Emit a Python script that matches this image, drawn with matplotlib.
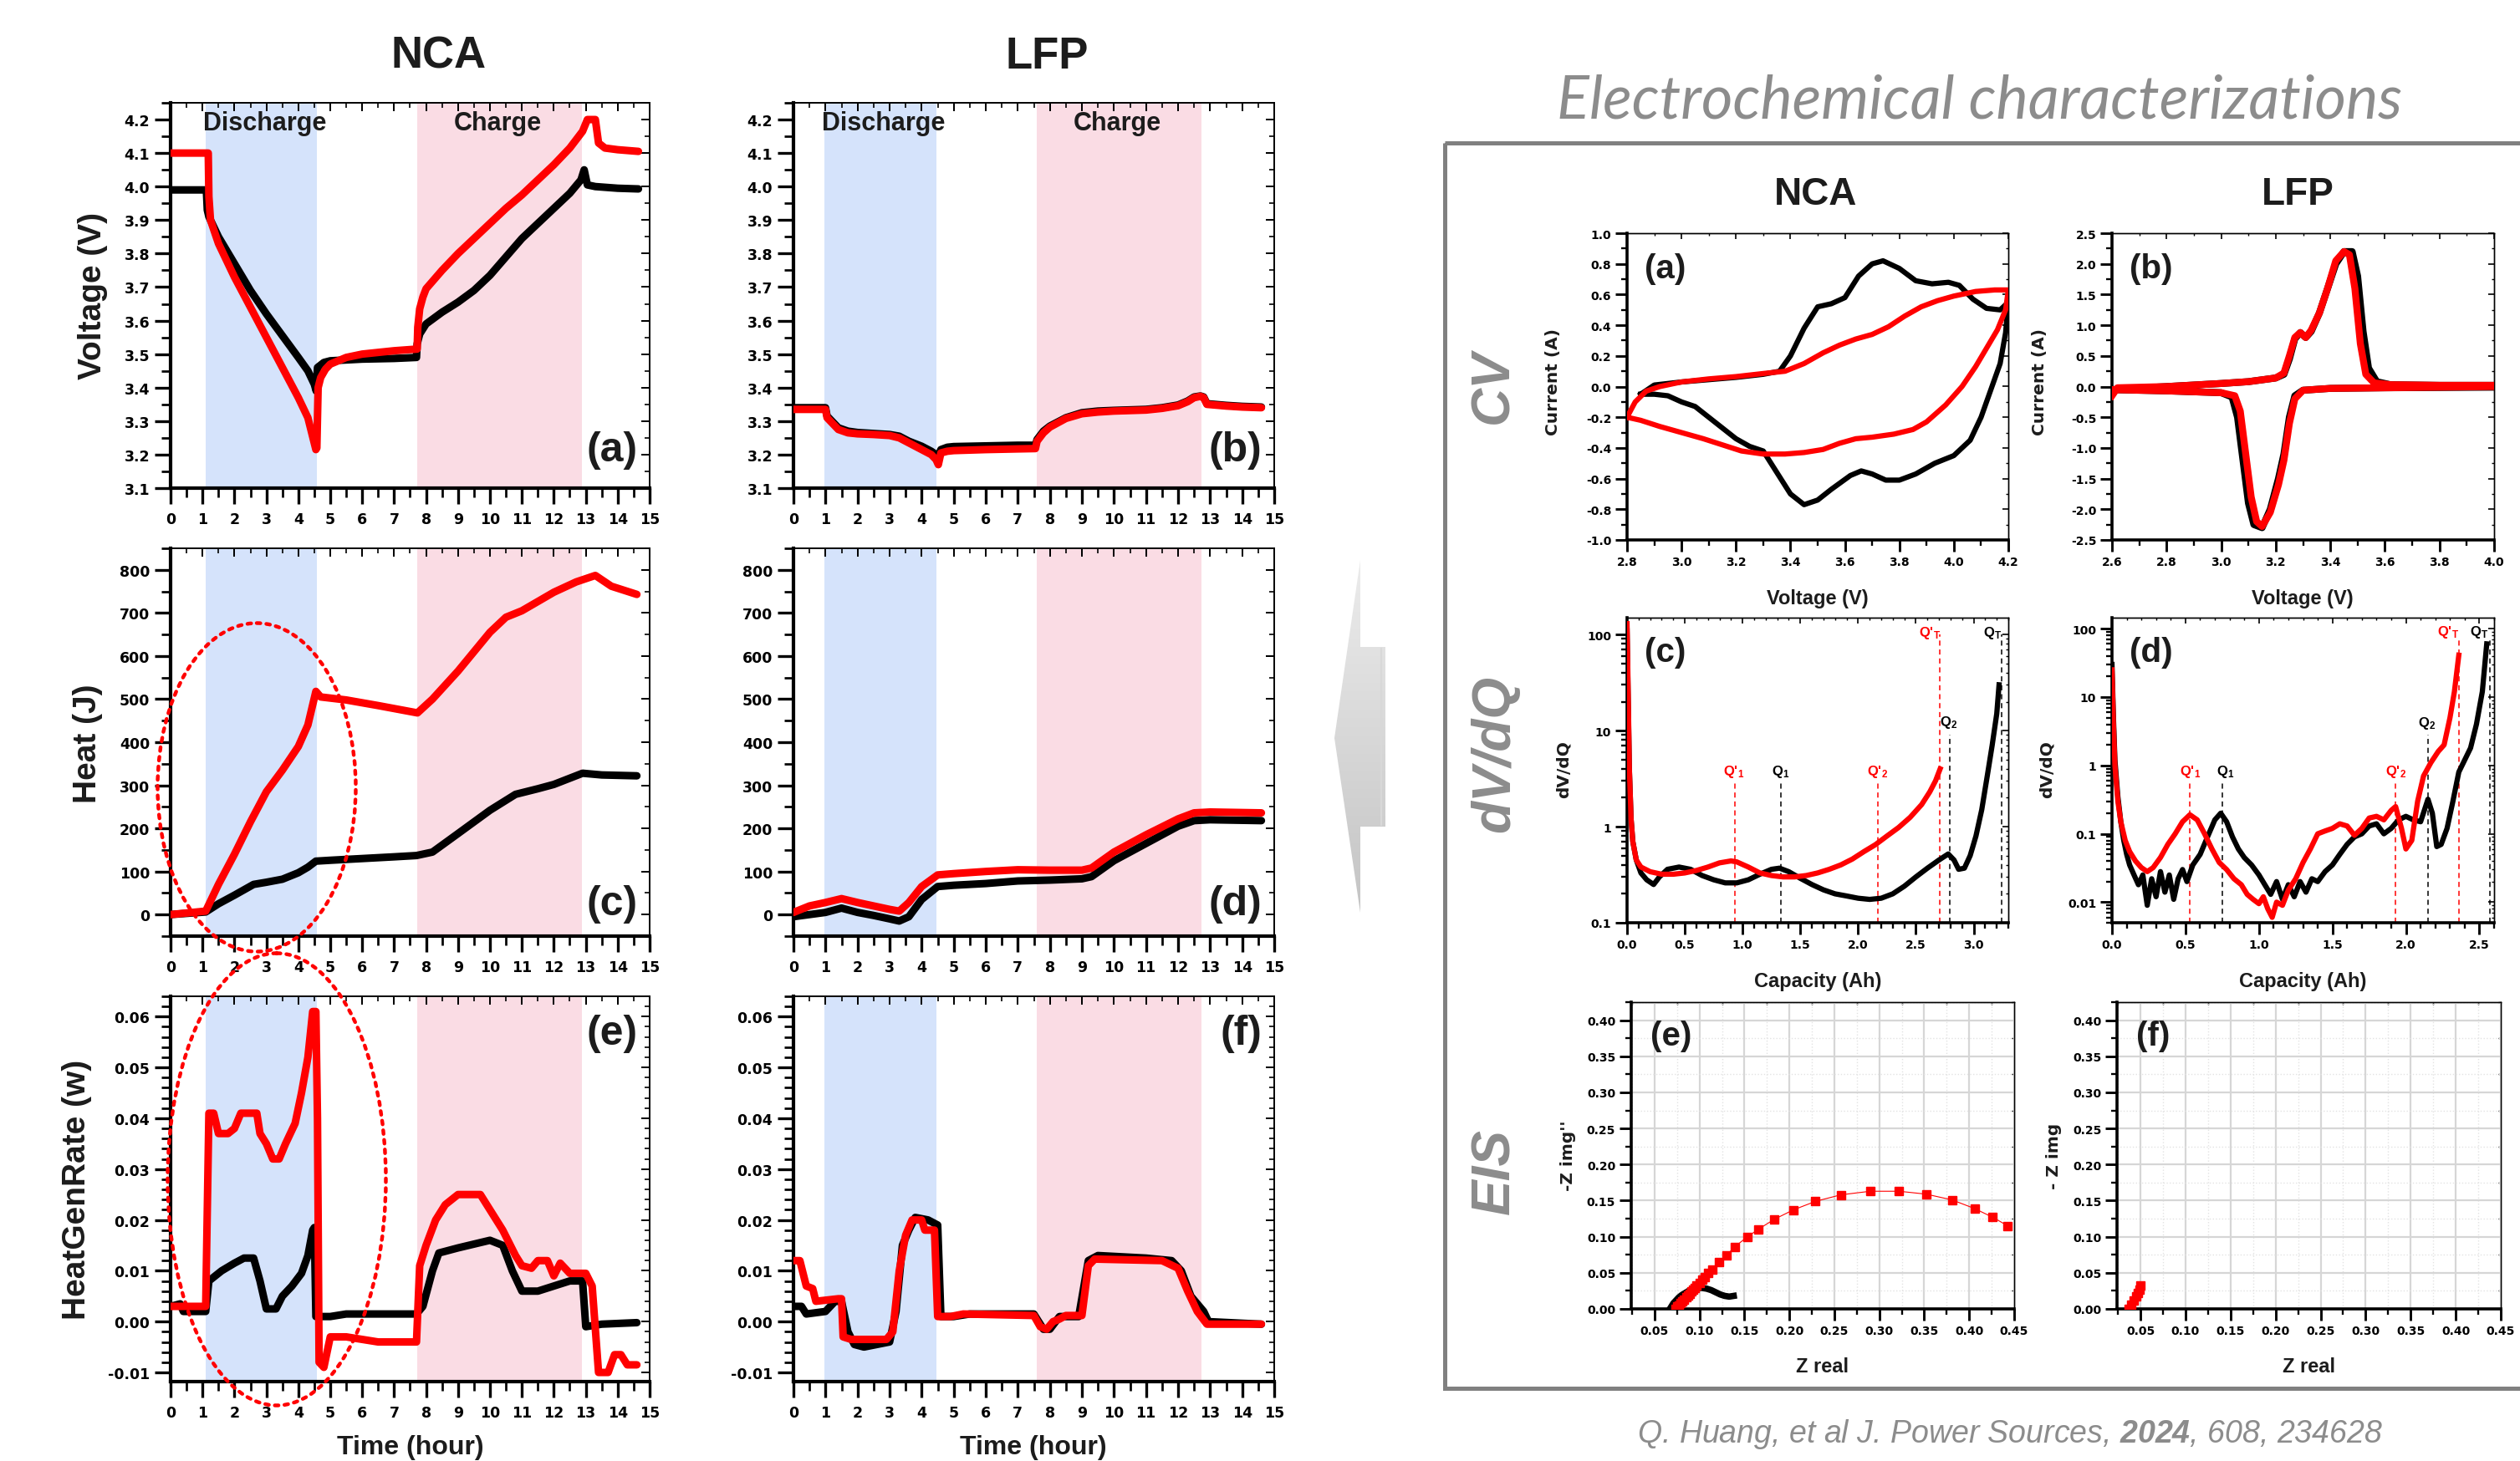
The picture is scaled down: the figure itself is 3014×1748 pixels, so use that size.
import matplotlib
matplotlib.use("Agg")
import numpy as np
import matplotlib.pyplot as plt
from matplotlib import font_manager as fm
from matplotlib.patches import Ellipse, Rectangle, Polygon
from matplotlib.colors import LinearSegmentedColormap
from matplotlib.ticker import (MultipleLocator, FixedLocator, FuncFormatter,
                               LogLocator, NullFormatter)

_names = {f.name for f in fm.fontManager.ttflist}
NARROW = 'Liberation Sans Narrow' if 'Liberation Sans Narrow' in _names else 'Liberation Sans'

plt.rcParams['font.family'] = ['Liberation Sans', 'DejaVu Sans']
plt.rcParams['font.weight'] = 'bold'
plt.rcParams['mathtext.fontset'] = 'custom'
plt.rcParams['mathtext.rm'] = 'Liberation Sans:bold'
plt.rcParams['mathtext.it'] = 'Liberation Sans:italic:bold'
plt.rcParams['mathtext.bf'] = NARROW + ':italic:bold'

# %% data -------------------------------------------------------------
# shaded step windows (hours)
nca_dis = (1.11, 4.57)
nca_chg = (7.71, 12.88)
lfp_dis = (0.97, 4.45)
lfp_chg = (7.58, 12.74)

# (a) NCA voltage
nca_v_t_k = [0, 1.12, 1.15, 1.2, 1.5, 2.0, 2.5, 3.0, 3.5, 4.0, 4.3, 4.5, 4.56, 4.6, 4.8, 5.0, 6.0, 7.0,
             7.7, 7.72, 7.8, 8.0, 8.5, 9.0, 9.5, 10.0, 10.5, 11.0, 11.5, 12.0, 12.5, 12.85, 12.95,
             13.05, 13.3, 14.0, 14.65]
nca_v_k = [3.99, 3.99, 3.93, 3.91, 3.85, 3.77, 3.69, 3.62, 3.555, 3.49, 3.45, 3.41, 3.39, 3.46, 3.475,
           3.48, 3.485, 3.487, 3.49, 3.53, 3.56, 3.59, 3.625, 3.655, 3.69, 3.735, 3.79, 3.845, 3.89,
           3.935, 3.98, 4.02, 4.05, 4.005, 4.0, 3.995, 3.993]
nca_v_t_r = [0, 1.18, 1.2, 1.25, 1.5, 2.0, 2.5, 3.0, 3.5, 4.0, 4.3, 4.55, 4.58, 4.62, 4.7, 4.85, 5.0,
             5.5, 6.0, 7.0, 7.72, 7.74, 7.8, 7.9, 8.0, 8.5, 9.0, 9.5, 10.0, 10.5, 11.0, 11.5, 12.0,
             12.5, 12.9, 13.05, 13.3, 13.4, 13.6, 14.0, 14.65]
nca_v_r = [4.1, 4.1, 3.97, 3.9, 3.83, 3.73, 3.64, 3.55, 3.46, 3.37, 3.31, 3.215, 3.22, 3.40, 3.43,
           3.455, 3.47, 3.49, 3.50, 3.51, 3.515, 3.58, 3.635, 3.67, 3.695, 3.75, 3.80, 3.845, 3.89,
           3.935, 3.975, 4.02, 4.065, 4.115, 4.165, 4.20, 4.20, 4.13, 4.115, 4.11, 4.105]

# (b) LFP voltage
lfp_v_t = [0, 1.0, 1.05, 1.2, 1.4, 1.7, 2.0, 2.5, 3.0, 3.3, 3.6, 4.0, 4.3, 4.45, 4.52, 4.6, 4.8, 5.0,
           6.0, 7.0, 7.55, 7.6, 7.8, 8.0, 8.5, 9.0, 9.5, 10.0, 11.0, 11.5, 12.0, 12.3, 12.5, 12.7,
           12.8, 12.9, 13.5, 14.0, 14.6]
lfp_v_k = [3.34, 3.34, 3.315, 3.30, 3.28, 3.27, 3.266, 3.263, 3.26, 3.255, 3.24, 3.225, 3.21, 3.20,
           3.195, 3.215, 3.222, 3.224, 3.226, 3.228, 3.228, 3.245, 3.27, 3.285, 3.31, 3.325, 3.33,
           3.332, 3.335, 3.34, 3.348, 3.36, 3.372, 3.375, 3.372, 3.352, 3.347, 3.344, 3.342]
lfp_v_r = [3.335, 3.335, 3.31, 3.295, 3.275, 3.265, 3.262, 3.26, 3.257, 3.25, 3.235, 3.215, 3.20,
           3.185, 3.17, 3.205, 3.21, 3.212, 3.215, 3.217, 3.218, 3.24, 3.265, 3.282, 3.308, 3.322,
           3.327, 3.33, 3.333, 3.338, 3.346, 3.358, 3.37, 3.374, 3.37, 3.35, 3.345, 3.342, 3.34]

# (c) NCA heat
nca_q_t_k = [0, 1.1, 1.5, 2.0, 2.6, 3.0, 3.5, 4.0, 4.3, 4.55, 5.0, 6.0, 7.0, 7.7, 8.2, 9.0, 10.0, 10.8,
             11.5, 12.0, 12.9, 13.5, 14.6]
nca_q_k = [0, 6, 25, 45, 70, 75, 82, 97, 110, 124, 126, 130, 134, 137, 145, 188, 242, 279, 292, 302,
           328, 324, 322]
nca_q_t_r = [0, 1.1, 1.5, 2.0, 2.5, 3.0, 3.5, 4.0, 4.3, 4.55, 4.7, 5.5, 6.5, 7.73, 8.2, 9.0, 10.0,
             10.5, 11.0, 12.0, 12.7, 13.3, 13.8, 14.6]
nca_q_r = [0, 8, 70, 140, 215, 285, 335, 390, 440, 518, 505, 498, 485, 468, 500, 565, 655, 690, 705,
           748, 772, 787, 762, 743]

# (d) LFP heat
lfp_q_t = [0, 0.5, 1.0, 1.5, 2.0, 2.5, 3.0, 3.3, 3.6, 4.0, 4.5, 5.0, 6.0, 7.0, 8.0, 9.0, 9.3, 10.0,
           11.0, 12.0, 12.5, 13.0, 14.6]
lfp_q_k = [-5, 0, 5, 15, 5, -2, -10, -15, -5, 35, 65, 68, 72, 78, 80, 83, 88, 125, 165, 205, 218,
           220, 218]
lfp_q_r = [5, 20, 28, 37, 28, 20, 12, 8, 28, 65, 92, 95, 100, 104, 103, 103, 108, 145, 185, 222,
           236, 238, 236]

# (e) NCA heat generation rate
nca_h_t_k = [0, 0.3, 0.4, 1.1, 1.2, 1.4, 1.6, 2.0, 2.3, 2.6, 2.8, 3.0, 3.3, 3.5, 3.8, 4.1, 4.3, 4.45,
             4.5, 4.55, 5.0, 5.5, 7.7, 7.9, 8.2, 8.4, 9.0, 10.0, 10.4, 10.7, 11.0, 11.5, 12.0, 12.5,
             12.9, 13.0, 13.5, 14.6]
nca_h_k = [0.003, 0.0035, 0.002, 0.002, 0.008, 0.009, 0.010, 0.0115, 0.0125, 0.0125, 0.008, 0.0025,
           0.0025, 0.005, 0.007, 0.0095, 0.013, 0.018, 0.0185, 0.001, 0.001, 0.0015, 0.0015, 0.003,
           0.010, 0.0135, 0.0145, 0.016, 0.015, 0.010, 0.006, 0.006, 0.007, 0.008, 0.008, -0.001,
           -0.0005, -0.0002]
nca_h_t_r = [0, 1.1, 1.2, 1.35, 1.5, 1.8, 2.0, 2.2, 2.7, 2.8, 3.0, 3.2, 3.4, 3.6, 3.9, 4.1, 4.3, 4.45,
             4.55, 4.6, 4.65, 4.8, 5.0, 5.5, 6.0, 6.5, 7.7, 7.8, 8.0, 8.3, 8.6, 9.0, 9.7, 10.0, 10.4,
             10.8, 11.0, 11.3, 11.5, 11.8, 12.0, 12.2, 12.5, 13.0, 13.2, 13.4, 13.7, 13.9, 14.1,
             14.3, 14.6]
nca_h_r = [0.003, 0.003, 0.041, 0.041, 0.037, 0.037, 0.038, 0.041, 0.041, 0.037, 0.035, 0.032,
           0.032, 0.035, 0.039, 0.045, 0.052, 0.061, 0.061, 0.040, -0.008, -0.009, -0.003, -0.003,
           -0.0035, -0.004, -0.004, 0.011, 0.015, 0.020, 0.023, 0.025, 0.025, 0.022, 0.018, 0.013,
           0.011, 0.0105, 0.012, 0.012, 0.009, 0.0115, 0.0095, 0.0095, 0.007, -0.010, -0.010,
           -0.0065, -0.0065, -0.0085, -0.0085]

# (f) LFP heat generation rate
lfp_h_t_k = [0, 0.25, 0.4, 1.0, 1.3, 1.5, 1.7, 1.9, 2.2, 3.0, 3.2, 3.4, 3.6, 3.8, 4.2, 4.5, 4.6, 5.0,
             5.5, 7.5, 7.8, 8.0, 8.3, 8.9, 9.2, 9.5, 11.0, 11.8, 12.1, 12.4, 12.8, 12.95, 14.6]
lfp_h_k = [0.003, 0.003, 0.0015, 0.002, 0.004, 0.004, -0.002, -0.0045, -0.005, -0.004, 0.002, 0.015,
           0.018, 0.0205, 0.020, 0.019, 0.001, 0.001, 0.0015, 0.0015, -0.0015, -0.0015, 0.001, 0.001,
           0.012, 0.013, 0.0125, 0.012, 0.010, 0.005, 0.002, 0.0, -0.0005]
lfp_h_t_r = [0, 0.2, 0.4, 0.6, 0.7, 1.4, 1.5, 1.55, 1.8, 2.9, 3.1, 3.3, 3.5, 3.7, 4.0, 4.1, 4.4, 4.5,
             4.9, 5.3, 7.5, 7.7, 7.9, 8.1, 8.3, 8.5, 9.0, 9.2, 9.4, 11.5, 12.0, 12.3, 12.6, 12.9, 14.6]
lfp_h_r = [0.012, 0.012, 0.007, 0.0065, 0.004, 0.0045, 0.0045, -0.003, -0.0035, -0.0035, -0.002,
           0.010, 0.017, 0.020, 0.020, 0.018, 0.018, 0.001, 0.001, 0.0015, 0.0012, -0.001, -0.0015,
           0.0, 0.0005, 0.0012, 0.0012, 0.011, 0.0123, 0.012, 0.0105, 0.006, 0.002, -0.0005, -0.0005]

# CV (a) NCA, (b) LFP
cv_nca_v_k = [2.85, 2.9, 3.0, 3.1, 3.2, 3.3, 3.36, 3.4, 3.45, 3.5, 3.55, 3.6, 3.65, 3.7, 3.74, 3.8,
              3.86, 3.92, 3.98, 4.02, 4.07, 4.12, 4.17, 4.2, 4.19, 4.17, 4.13, 4.1, 4.06, 4.0, 3.93,
              3.86, 3.8, 3.75, 3.7, 3.66, 3.62, 3.55, 3.5, 3.45, 3.4, 3.35, 3.3, 3.25, 3.2, 3.15,
              3.1, 3.05, 3.0, 2.95, 2.9, 2.85]
cv_nca_i_k = [-0.05, 0.01, 0.03, 0.045, 0.06, 0.08, 0.1, 0.2, 0.38, 0.52, 0.54, 0.58, 0.72, 0.8,
              0.82, 0.77, 0.69, 0.67, 0.68, 0.66, 0.57, 0.51, 0.5, 0.55, 0.35, 0.15, -0.05, -0.2,
              -0.35, -0.45, -0.5, -0.57, -0.61, -0.61, -0.57, -0.55, -0.58, -0.67, -0.74, -0.77,
              -0.7, -0.56, -0.42, -0.39, -0.34, -0.27, -0.2, -0.13, -0.1, -0.06, -0.05, -0.05]
cv_nca_v_r = [2.8, 2.83, 2.87, 2.92, 3.0, 3.1, 3.2, 3.3, 3.38, 3.45, 3.52, 3.58, 3.64, 3.7, 3.76,
              3.82, 3.88, 3.94, 4.0, 4.08, 4.15, 4.2, 4.19, 4.16, 4.13, 4.08, 4.03, 3.97, 3.9, 3.85,
              3.78, 3.7, 3.64, 3.58, 3.52, 3.45, 3.38, 3.3, 3.22, 3.15, 3.08, 3.0, 2.92, 2.85, 2.8]
cv_nca_i_r = [-0.2, -0.1, -0.03, 0.0, 0.03, 0.05, 0.065, 0.085, 0.1, 0.15, 0.22, 0.27, 0.31, 0.34,
              0.39, 0.46, 0.52, 0.56, 0.59, 0.62, 0.63, 0.63, 0.5, 0.37, 0.28, 0.13, 0.0, -0.12,
              -0.23, -0.28, -0.31, -0.33, -0.34, -0.37, -0.41, -0.43, -0.44, -0.44, -0.42, -0.38,
              -0.34, -0.3, -0.26, -0.22, -0.2]
cv_lfp_v_k = [2.6, 2.8, 3.0, 3.1, 3.2, 3.23, 3.25, 3.27, 3.29, 3.31, 3.33, 3.36, 3.39, 3.42, 3.45,
              3.48, 3.5, 3.52, 3.54, 3.57, 3.62, 3.8, 4.0, 4.0, 3.6, 3.4, 3.3, 3.27, 3.25, 3.23,
              3.21, 3.18, 3.15, 3.12, 3.1, 3.08, 3.06, 3.04, 3.0, 2.8, 2.6]
cv_lfp_i_k = [-0.05, 0.0, 0.05, 0.08, 0.14, 0.2, 0.45, 0.78, 0.88, 0.8, 0.9, 1.2, 1.6, 2.0, 2.2,
              2.2, 1.8, 0.9, 0.3, 0.08, 0.03, 0.02, 0.02, -0.01, -0.02, -0.03, -0.06, -0.15, -0.5,
              -1.1, -1.5, -2.0, -2.3, -2.25, -1.9, -1.2, -0.5, -0.17, -0.1, -0.07, -0.05]
cv_lfp_v_r = [2.6, 2.62, 2.8, 3.0, 3.1, 3.2, 3.23, 3.25, 3.27, 3.29, 3.31, 3.33, 3.36, 3.39, 3.42,
              3.45, 3.47, 3.49, 3.51, 3.53, 3.56, 3.62, 3.8, 4.0, 4.0, 3.6, 3.4, 3.3, 3.27, 3.25,
              3.23, 3.21, 3.18, 3.15, 3.13, 3.11, 3.09, 3.07, 3.05, 3.0, 2.8, 2.6]
cv_lfp_i_r = [-0.15, -0.02, 0.0, 0.05, 0.08, 0.14, 0.22, 0.5, 0.8, 0.88, 0.8, 0.92, 1.2, 1.6, 2.05,
              2.2, 2.15, 1.6, 0.7, 0.2, 0.06, 0.03, 0.02, 0.02, 0.0, -0.02, -0.03, -0.06, -0.2,
              -0.6, -1.2, -1.6, -2.05, -2.28, -2.2, -1.8, -1.1, -0.4, -0.15, -0.1, -0.07, -0.05]

# dV/dQ (c) NCA, (d) LFP
dq_nca_c_k = [0.0, 0.01, 0.02, 0.035, 0.05, 0.08, 0.12, 0.17, 0.23, 0.28, 0.35, 0.45, 0.55, 0.65,
              0.75, 0.85, 0.95, 1.05, 1.15, 1.25, 1.32, 1.4, 1.5, 1.6, 1.7, 1.8, 1.9, 2.0, 2.1, 2.2,
              2.3, 2.4, 2.5, 2.6, 2.7, 2.78, 2.83, 2.87, 2.92, 2.97, 3.02, 3.07, 3.12, 3.16, 3.2, 3.22]
dq_nca_k = [110, 20, 4, 1.2, 0.7, 0.45, 0.33, 0.28, 0.25, 0.3, 0.36, 0.38, 0.36, 0.31, 0.28, 0.26,
            0.26, 0.28, 0.32, 0.36, 0.37, 0.34, 0.29, 0.25, 0.22, 0.2, 0.19, 0.18, 0.175, 0.18, 0.2,
            0.24, 0.3, 0.37, 0.45, 0.52, 0.45, 0.36, 0.37, 0.5, 0.8, 1.5, 3.5, 7, 15, 30]
dq_nca_c_r = [0.0, 0.01, 0.02, 0.035, 0.05, 0.08, 0.12, 0.2, 0.3, 0.4, 0.5, 0.6, 0.7, 0.8, 0.9,
              0.95, 1.05, 1.15, 1.25, 1.35, 1.45, 1.55, 1.65, 1.75, 1.85, 1.95, 2.05, 2.15, 2.25,
              2.35, 2.45, 2.55, 2.62, 2.67, 2.71]
dq_nca_r = [130, 25, 4, 1.2, 0.7, 0.45, 0.38, 0.34, 0.32, 0.32, 0.33, 0.35, 0.38, 0.42, 0.44, 0.43,
            0.38, 0.33, 0.31, 0.3, 0.3, 0.31, 0.33, 0.36, 0.4, 0.46, 0.55, 0.65, 0.8, 0.98, 1.25,
            1.7, 2.3, 3.0, 4.0]
dq_lfp_c_k = [0.0, 0.01, 0.02, 0.04, 0.06, 0.08, 0.1, 0.12, 0.15, 0.18, 0.21, 0.24, 0.27, 0.3, 0.33,
              0.36, 0.39, 0.42, 0.45, 0.48, 0.51, 0.55, 0.6, 0.65, 0.7, 0.74, 0.78, 0.82, 0.86, 0.9,
              0.95, 1.0, 1.04, 1.08, 1.12, 1.16, 1.2, 1.24, 1.28, 1.32, 1.36, 1.4, 1.45, 1.5, 1.55,
              1.6, 1.65, 1.7, 1.75, 1.8, 1.85, 1.9, 1.95, 2.0, 2.05, 2.1, 2.15, 2.18, 2.21, 2.24,
              2.28, 2.32, 2.36, 2.4, 2.44, 2.48, 2.52, 2.55]
dq_lfp_k = [30, 5, 1.2, 0.35, 0.15, 0.08, 0.05, 0.035, 0.025, 0.018, 0.025, 0.009, 0.022, 0.012,
            0.028, 0.014, 0.025, 0.011, 0.022, 0.03, 0.02, 0.035, 0.05, 0.09, 0.16, 0.2, 0.15, 0.09,
            0.06, 0.045, 0.035, 0.025, 0.018, 0.013, 0.02, 0.011, 0.018, 0.012, 0.02, 0.014, 0.022,
            0.02, 0.028, 0.035, 0.05, 0.07, 0.09, 0.1, 0.13, 0.14, 0.1, 0.12, 0.16, 0.18, 0.16,
            0.15, 0.32, 0.2, 0.065, 0.07, 0.12, 0.3, 0.8, 1.2, 1.8, 4.0, 12, 60]
dq_lfp_c_r = [0.0, 0.01, 0.02, 0.04, 0.06, 0.09, 0.12, 0.16, 0.2, 0.24, 0.28, 0.33, 0.38, 0.43,
              0.48, 0.53, 0.58, 0.63, 0.68, 0.73, 0.78, 0.83, 0.88, 0.92, 0.96, 1.0, 1.03, 1.06,
              1.09, 1.12, 1.16, 1.2, 1.25, 1.3, 1.35, 1.4, 1.45, 1.5, 1.55, 1.6, 1.65, 1.7, 1.75,
              1.8, 1.85, 1.9, 1.93, 1.97, 2.0, 2.04, 2.08, 2.12, 2.17, 2.22, 2.26, 2.3, 2.33, 2.36]
dq_lfp_r = [25, 4, 1.0, 0.3, 0.15, 0.08, 0.055, 0.04, 0.032, 0.028, 0.032, 0.045, 0.07, 0.1, 0.15,
            0.19, 0.16, 0.1, 0.06, 0.038, 0.03, 0.022, 0.018, 0.013, 0.011, 0.0095, 0.012, 0.008,
            0.006, 0.01, 0.009, 0.015, 0.022, 0.038, 0.06, 0.1, 0.11, 0.12, 0.14, 0.13, 0.095,
            0.12, 0.17, 0.18, 0.16, 0.22, 0.25, 0.12, 0.06, 0.08, 0.3, 0.7, 1.1, 1.6, 2.0, 5, 12, 41]

# peak markers on the dV/dQ panels
nca_mk_x = [0.93, 1.33, 2.17, 2.71, 2.79, 3.24]
nca_mk_top = [3.0, 3.0, 3.0, 100, 9, 100]
nca_mk_lx = [0.92, 1.33, 2.17, 2.62, 2.78, 3.16]
nca_mk_ly = [3.8, 3.8, 3.8, 105, 12.5, 105]
lfp_mk_x = [0.53, 0.75, 1.93, 2.15, 2.36, 2.57]
lfp_mk_top = [0.55, 0.55, 0.55, 2.8, 70, 70]
lfp_mk_lx = [0.53, 0.77, 1.93, 2.14, 2.29, 2.5]
lfp_mk_ly = [0.82, 0.82, 0.82, 4.2, 92, 92]
mk_labels = ["Q'$_1$", "Q$_1$", "Q'$_2$", "Q'$_\\mathrm{T}$", "Q$_2$", "Q$_\\mathrm{T}$"]
nca_mk_col = ['red', 'black', 'red', 'red', 'black', 'black']
lfp_mk_col = ['red', 'black', 'red', 'black', 'red', 'black']
lfp_mk_labels = ["Q'$_1$", "Q$_1$", "Q'$_2$", "Q$_2$", "Q'$_\\mathrm{T}$", "Q$_\\mathrm{T}$"]

# EIS (e) NCA, (f) LFP
eis_nca_zr_r = [0.073, 0.075, 0.077, 0.079, 0.081, 0.083, 0.085, 0.087, 0.089, 0.091, 0.093, 0.095,
                0.097, 0.100, 0.103, 0.106, 0.110, 0.114, 0.122, 0.130, 0.139, 0.153, 0.165, 0.183,
                0.204, 0.229, 0.257, 0.290, 0.322, 0.352, 0.381, 0.406, 0.426, 0.443]
eis_nca_zi_r = [0.0, 0.003, 0.005, 0.008, 0.011, 0.013, 0.016, 0.019, 0.021, 0.024, 0.027, 0.029,
                0.032, 0.036, 0.040, 0.044, 0.050, 0.055, 0.065, 0.074, 0.086, 0.0996, 0.110, 0.124,
                0.137, 0.149, 0.158, 0.163, 0.163, 0.159, 0.151, 0.139, 0.127, 0.115]
eis_nca_zr_k = [0.067, 0.069, 0.071, 0.074, 0.077, 0.080, 0.084, 0.088, 0.093, 0.098, 0.103, 0.108,
                0.113, 0.118, 0.123, 0.128, 0.133, 0.138]
eis_nca_zi_k = [0.0, 0.004, 0.008, 0.012, 0.016, 0.019, 0.022, 0.025, 0.027, 0.029, 0.029, 0.028,
                0.026, 0.023, 0.020, 0.018, 0.017, 0.018]
eis_lfp_zr_r = [0.037, 0.040, 0.043, 0.045, 0.047, 0.049, 0.050]
eis_lfp_zi_r = [0.0, 0.006, 0.012, 0.017, 0.022, 0.027, 0.032]

# %% figure -----------------------------------------------------------
W, H = 3014, 1749
fig = plt.figure(figsize=(W / 100, H / 100), dpi=100)
BLUE, PINK = '#d5e3fb', '#fadce4'
DARK = '#1c1c1c'
GREY = '#8c8c8c'
TICKFONT = 'DejaVu Sans'


def px_axes(l, t, r, b):
    return fig.add_axes([l / W, 1 - b / H, (r - l) / W, (b - t) / H])


def ftext(x, y, s, **kw):
    kw.setdefault('ha', 'center')
    kw.setdefault('va', 'center')
    return fig.text(x / W, 1 - y / H, s, **kw)


def clean(fmt):
    return FuncFormatter(lambda v, p: fmt % (round(v, 6) + 0.0))


def dress(ax, xmaj, xmin, ymaj, ymin, lw, thin, L, Lm, lsize):
    ax.xaxis.set_major_locator(xmaj())
    ax.xaxis.set_minor_locator(xmin())
    ax.yaxis.set_major_locator(ymaj())
    ax.yaxis.set_minor_locator(ymin())
    for s in ('left', 'bottom'):
        ax.spines[s].set_linewidth(lw)
    for s in ('top', 'right'):
        ax.spines[s].set_linewidth(thin)
    ax.tick_params(which='major', direction='out', length=L, width=lw * 0.8, labelsize=lsize,
                   labelfontfamily=TICKFONT, top=False, right=False)
    ax.tick_params(which='minor', direction='out', length=Lm, width=lw * 0.65,
                   top=False, right=False)
    top = ax.secondary_xaxis('top')
    top.xaxis.set_major_locator(xmaj())
    top.xaxis.set_minor_locator(xmin())
    top.xaxis.set_major_formatter(NullFormatter())
    top.xaxis.set_minor_formatter(NullFormatter())
    top.tick_params(which='major', direction='in', length=L * 0.5, width=thin * 1.2)
    top.tick_params(which='minor', direction='in', length=Lm * 0.5, width=thin)
    top.spines['top'].set_linewidth(thin)
    rgt = ax.secondary_yaxis('right')
    rgt.yaxis.set_major_locator(ymaj())
    rgt.yaxis.set_minor_locator(ymin())
    rgt.yaxis.set_major_formatter(NullFormatter())
    rgt.yaxis.set_minor_formatter(NullFormatter())
    rgt.tick_params(which='major', direction='in', length=L * 0.5, width=thin * 1.2)
    rgt.tick_params(which='minor', direction='in', length=Lm * 0.5, width=thin)
    rgt.spines['right'].set_linewidth(thin)


# ---- left block: NCA / LFP thermal behaviour -------------------------
cols = [(204, 777), (949, 1524)]
rows = [(124, 585), (657, 1121), (1193, 1654)]
spans = [(nca_dis, nca_chg), (lfp_dis, lfp_chg)]
left_series = [
    [(nca_v_t_k, nca_v_k, nca_v_t_r, nca_v_r), (lfp_v_t, lfp_v_k, lfp_v_t, lfp_v_r)],
    [(nca_q_t_k, nca_q_k, nca_q_t_r, nca_q_r), (lfp_q_t, lfp_q_k, lfp_q_t, lfp_q_r)],
    [(nca_h_t_k, nca_h_k, nca_h_t_r, nca_h_r), (lfp_h_t_k, lfp_h_k, lfp_h_t_r, lfp_h_r)],
]
row_ylim = [(3.1, 4.25), (-50, 850), (-0.0118, 0.064)]
row_major = [0.1, 100, 0.01]
row_minor = [0.05, 50, 0.002]
row_fmt = ['%.1f', '%d', '%.2f']
panel_tags = [['(a)', '(b)'], ['(c)', '(d)'], ['(e)', '(f)']]
tag_y = [0.10, 0.085, 0.905]

for ri, (t, b) in enumerate(rows):
    for ci, (l, r) in enumerate(cols):
        ax = px_axes(l, t, r, b)
        dis, chg = spans[ci]
        ax.axvspan(*dis, color=BLUE, lw=0, zorder=0)
        ax.axvspan(*chg, color=PINK, lw=0, zorder=0)
        tk, yk, tr, yr = left_series[ri][ci]
        ax.plot(tk, yk, color='black', lw=6.5, solid_capstyle='round', solid_joinstyle='round', zorder=2)
        ax.plot(tr, yr, color='red', lw=6.5, solid_capstyle='round', solid_joinstyle='round', zorder=3)
        ax.set_xlim(0, 15)
        ax.set_ylim(*row_ylim[ri])
        dress(ax, lambda: MultipleLocator(1), lambda: MultipleLocator(0.5),
              (lambda m=row_major[ri]: MultipleLocator(m)),
              (lambda m=row_minor[ri]: MultipleLocator(m)),
              lw=3, thin=1.2, L=14, Lm=8, lsize=12.5)
        ax.yaxis.set_major_formatter(clean(row_fmt[ri]))
        ax.tick_params(axis='x', pad=6)
        ax.tick_params(axis='y', pad=4)
        for lab in ax.get_xticklabels() + ax.get_yticklabels():
            lab.set_fontweight('bold')
        ty = tag_y[ri]
        ax.text(0.975, ty, panel_tags[ri][ci], transform=ax.transAxes, ha='right', va='center',
                fontsize=36, color=DARK, zorder=5)
        if ri == 0:
            ax.text(sum(dis) / 2 + 0.1, 4.19, 'Discharge', ha='center', va='center', fontsize=22,
                    color=DARK, zorder=5)
            ax.text(sum(chg) / 2 - 0.05, 4.19, 'Charge', ha='center', va='center', fontsize=22,
                    color=DARK, zorder=5)

ftext(525, 68, 'NCA', fontsize=38, color=DARK)
ftext(1252, 68, 'LFP', fontsize=38, color=DARK)
ftext(111, 354, 'Voltage (V)', rotation=90, fontsize=28, color=DARK)
ftext(105, 890, 'Heat (J)', rotation=90, fontsize=28, color=DARK)
ftext(92, 1423, 'HeatGenRate (w)', rotation=90, fontsize=28, color=DARK)
ftext(491, 1747, 'Time (hour)', va='bottom', fontsize=23, color=DARK)
ftext(1236, 1747, 'Time (hour)', va='bottom', fontsize=23, color=DARK)

# ---- right block: electrochemical characterizations -----------------
rc = [(1946, 2402), (2526, 2983)]
rc_eis = [(1951, 2409), (2532, 2991)]
R_LW, R_THIN = 2.6, 1.0
R_TICK = 10

# CV
ax = px_axes(rc[0][0], 280, rc[0][1], 647)
ax.plot(cv_nca_v_k, cv_nca_i_k, color='black', lw=4.5, solid_joinstyle='round', zorder=2)
ax.plot(cv_nca_v_r, cv_nca_i_r, color='red', lw=4.5, solid_joinstyle='round', zorder=3)
ax.set_xlim(2.8, 4.2)
ax.set_ylim(-1.0, 1.0)
dress(ax, lambda: MultipleLocator(0.2), lambda: MultipleLocator(0.1),
      lambda: MultipleLocator(0.2), lambda: MultipleLocator(0.1), R_LW, R_THIN, 10, 5, R_TICK)
ax.xaxis.set_major_formatter(clean('%.1f'))
ax.yaxis.set_major_formatter(clean('%.1f'))
ax.text(0.045, 0.886, '(a)', transform=ax.transAxes, ha='left', va='center', fontsize=29, color=DARK)

ax = px_axes(rc[1][0], 280, rc[1][1], 647)
ax.plot(cv_lfp_v_k, cv_lfp_i_k, color='black', lw=6, solid_joinstyle='round', zorder=2)
ax.plot(cv_lfp_v_r, cv_lfp_i_r, color='red', lw=6, solid_joinstyle='round', zorder=3)
ax.set_xlim(2.6, 4.0)
ax.set_ylim(-2.5, 2.5)
dress(ax, lambda: MultipleLocator(0.2), lambda: MultipleLocator(0.1),
      lambda: MultipleLocator(0.5), lambda: MultipleLocator(0.25), R_LW, R_THIN, 10, 5, R_TICK)
ax.xaxis.set_major_formatter(clean('%.1f'))
ax.yaxis.set_major_formatter(clean('%.1f'))
ax.text(0.045, 0.886, '(b)', transform=ax.transAxes, ha='left', va='center', fontsize=29, color=DARK)

# dV/dQ
dq_sets = [
    (dq_nca_c_k, dq_nca_k, dq_nca_c_r, dq_nca_r, (0, 3.3), (0.1, 150), [0.1, 1, 10, 100],
     nca_mk_x, nca_mk_top, nca_mk_lx, nca_mk_ly, mk_labels, nca_mk_col, '(c)'),
    (dq_lfp_c_k, dq_lfp_k, dq_lfp_c_r, dq_lfp_r, (0, 2.6), (0.005, 145),
     [0.01, 0.1, 1, 10, 100],
     lfp_mk_x, lfp_mk_top, lfp_mk_lx, lfp_mk_ly, lfp_mk_labels, lfp_mk_col, '(d)'),
]
for ci, (ck, vk, cr, vr, xl, yl, yt, mx, mt, mlx, mly, mlab, mcol, tag) in enumerate(dq_sets):
    ax = px_axes(rc[ci][0], 740, rc[ci][1], 1105)
    ax.set_yscale('log')
    ax.plot(ck, vk, color='black', lw=4.5, solid_joinstyle='round', zorder=2)
    ax.plot(cr, vr, color='red', lw=4.5, solid_joinstyle='round', zorder=3)
    for x, top, lx, ly, lab, col in zip(mx, mt, mlx, mly, mlab, mcol):
        ax.plot([x, x], [yl[0], top], color=col, lw=1.1, ls=(0, (4, 3)), zorder=1)
        ax.text(lx, ly, lab, color=col, fontsize=12, ha='center', va='center', zorder=4)
    ax.set_xlim(*xl)
    ax.set_ylim(*yl)
    dress(ax, lambda: MultipleLocator(0.5), lambda: MultipleLocator(0.1),
          (lambda v=yt: FixedLocator(v)), lambda: LogLocator(base=10, subs=np.arange(2, 10)),
          R_LW, R_THIN, 10, 5, R_TICK)
    ax.xaxis.set_major_formatter(clean('%.1f'))
    ax.yaxis.set_major_formatter(FuncFormatter(lambda v, p: '%g' % v))
    ax.yaxis.set_minor_formatter(NullFormatter())
    ax.text(0.045, 0.888, tag, transform=ax.transAxes, ha='left', va='center', fontsize=29, color=DARK)

# EIS
eis_sets = [
    [(eis_nca_zr_k, eis_nca_zi_k, 'black'), (eis_nca_zr_r, eis_nca_zi_r, 'red')],
    [(eis_lfp_zr_r, eis_lfp_zi_r, 'red')],
]
for ci, series in enumerate(eis_sets):
    ax = px_axes(rc_eis[ci][0], 1200, rc_eis[ci][1], 1567)
    ax.set_xlim(0.024, 0.45)
    ax.set_ylim(0, 0.425)
    ax.grid(which='major', color='#d6d6d6', lw=1.6, zorder=0)
    ax.grid(which='minor', color='#e3e3e3', lw=1.0, ls=':', zorder=0)
    ax.set_axisbelow(True)
    for zr, zi, col in series:
        if col == 'black':
            ax.plot(zr, zi, color='black', lw=5.5, solid_joinstyle='round', zorder=2)
        else:
            ax.plot(zr, zi, color='red', lw=0.8, marker='s', ms=7, mec='red', mfc='red', zorder=3)
    dress(ax, lambda: MultipleLocator(0.05), lambda: MultipleLocator(0.025),
          lambda: MultipleLocator(0.05), lambda: MultipleLocator(0.025), R_LW, R_THIN, 10, 5, R_TICK)
    ax.xaxis.set_major_formatter(clean('%.2f'))
    ax.yaxis.set_major_formatter(clean('%.2f'))
    ax.text(0.05, 0.89, '(e)' if ci == 0 else '(f)', transform=ax.transAxes, ha='left',
            va='center', fontsize=29, color=DARK)

# right block labels
ftext(2172, 233, 'NCA', fontsize=33, color=DARK)
ftext(2748, 233, 'LFP', fontsize=33, color=DARK)
for x in (2174, 2754):
    ftext(x, 716, 'Voltage (V)', fontsize=17, color=DARK)
    ftext(x, 1174, 'Capacity (Ah)', fontsize=17, color=DARK)
ftext(2180, 1636, 'Z real', fontsize=17, color=DARK)
ftext(2762, 1636, 'Z real', fontsize=17, color=DARK)
ylab_kw = dict(rotation=90, fontsize=14.5, color=DARK, family=['DejaVu Sans'])
ftext(1857, 457, 'Current (A)', **ylab_kw)
ftext(2440, 457, 'Current (A)', **ylab_kw)
ftext(1870, 921, 'dV/dQ', **ylab_kw)
ftext(2448, 921, 'dV/dQ', **ylab_kw)
ftext(1876, 1383, "-Z img''", **ylab_kw)
ftext(2456, 1383, '- Z img', **ylab_kw)

row_kw = dict(rotation=90, fontsize=46, color=GREY, fontstyle='italic', fontweight='bold')
ftext(1786, 463, 'CV', **row_kw)
ftext(1788, 902, 'dV/dQ', **row_kw)
ftext(1788, 1402, 'EIS', **row_kw)

ftext(2368, 121, 'Electrochemical characterizations', fontsize=52, color=GREY,
      fontstyle='italic', fontweight='normal', family=['Lato', 'DejaVu Sans'])
ftext(2404, 1716, 'Q. Huang, et al J. Power Sources, $\\mathbf{2024}$, 608, 234628', fontsize=27,
      color=GREY, fontstyle='italic', fontweight='normal', family=[NARROW, 'DejaVu Sans'])

# ---- overlay: frame, arrow, ellipses (pixel coordinates) -------------
ov = fig.add_axes([0, 0, 1, 1], zorder=10)
ov.patch.set_alpha(0)
ov.axis('off')
ov.add_patch(Rectangle((1728, 172), 1400, 1490, fill=False, edgecolor='#808080', lw=3.6))

arrow_pts = [(1596, 884), (1627, 671), (1627, 775), (1657, 775), (1657, 990), (1627, 990),
             (1627, 1093)]
arrow = Polygon(arrow_pts, closed=True, facecolor='none', edgecolor='none')
ov.add_patch(arrow)
grad = np.linspace(0, 1, 256).reshape(-1, 1)
cmap = LinearSegmentedColormap.from_list('arrow', ['#ececec', '#c4c4c4'])
im = ov.imshow(grad, extent=(1590, 1662, 1095, 668), cmap=cmap, aspect='auto', zorder=1)
im.set_clip_path(arrow)
ov.plot([1652, 1652], [777, 988], color='#d8d8d8', lw=1.5)

for cx, cy, w, h in [(307, 943, 237, 393), (331, 1412, 261, 541)]:
    ov.add_patch(Ellipse((cx, cy), w, h, fill=False, edgecolor='red', lw=3.2,
                         ls=(0, (1, 1.6)), capstyle='round'))

ov.set_xlim(0, W)
ov.set_ylim(H, 0)

fig.savefig('out.png', dpi=100)
